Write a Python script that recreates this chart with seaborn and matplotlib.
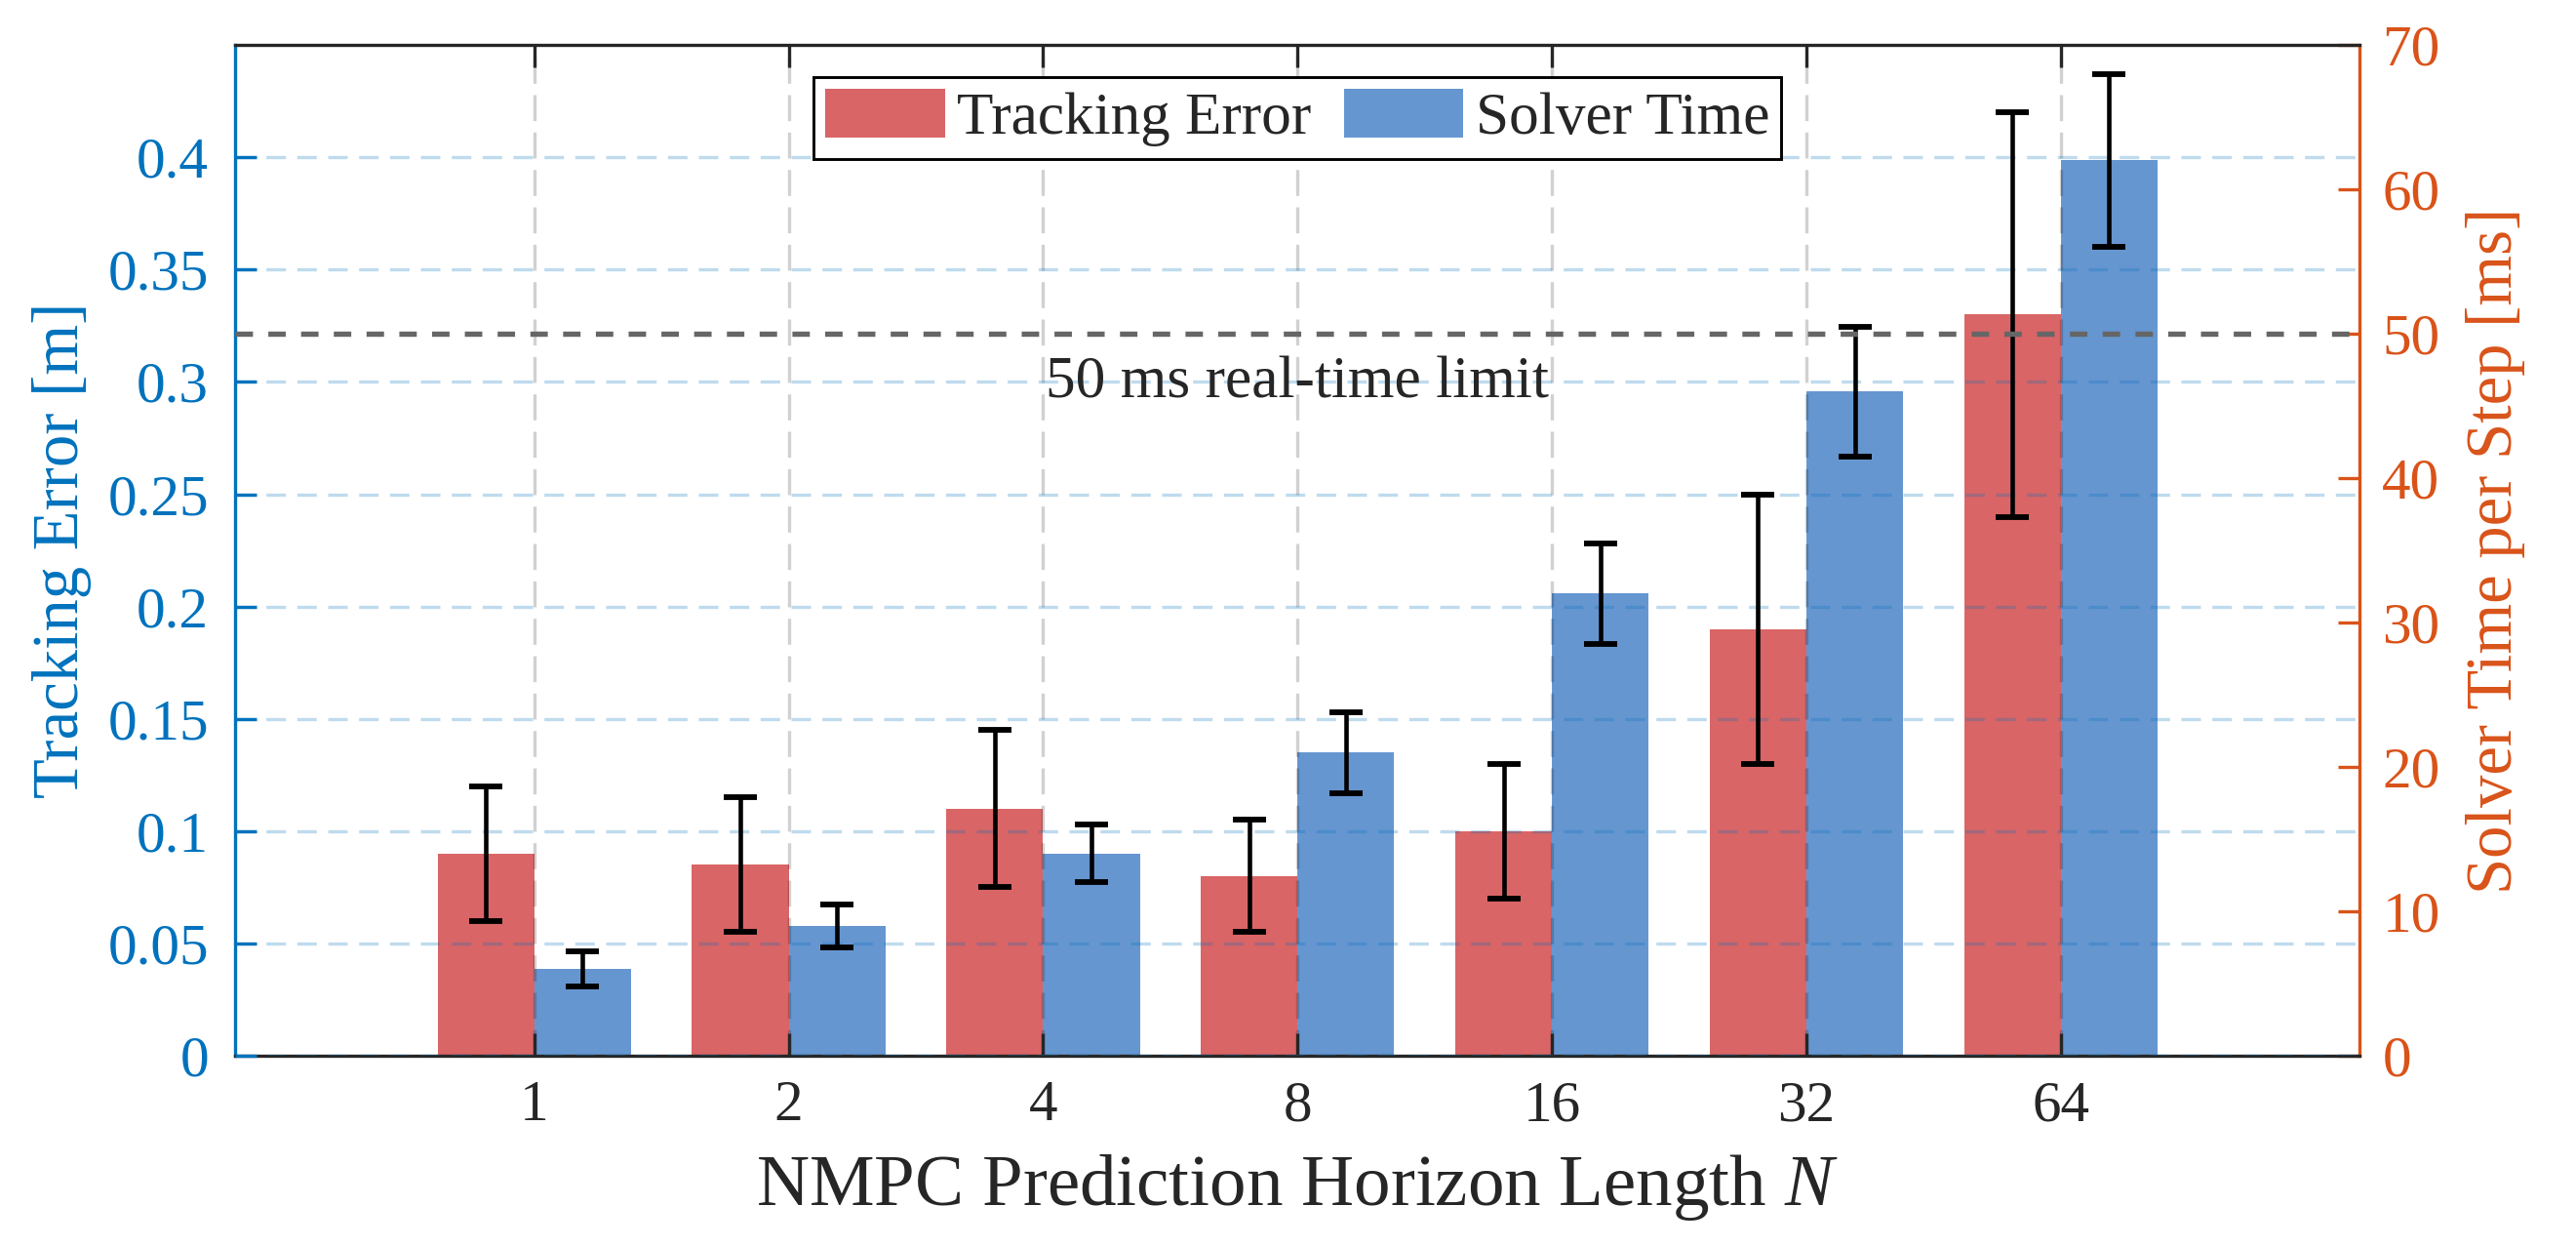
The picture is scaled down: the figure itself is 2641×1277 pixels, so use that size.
import numpy as np
import pandas as pd
import matplotlib
matplotlib.use("Agg")
import matplotlib.pyplot as plt
import seaborn as sns
from matplotlib.patches import Patch
from matplotlib.ticker import FuncFormatter

# ---------------- data ----------------
horizons = ["1", "2", "4", "8", "16", "32", "64"]
track_err = [0.09, 0.085, 0.11, 0.08, 0.10, 0.19, 0.33]
track_err_sd = [0.03, 0.03, 0.035, 0.025, 0.03, 0.06, 0.09]
solver_ms = [6, 9, 14, 21, 32, 46, 62]
solver_ms_sd = [1.2, 1.5, 2.0, 2.8, 3.5, 4.5, 6.0]
series = ["Tracking Error", "Solver Time"]
left_lim = (0, 0.45)
right_lim = (0, 70)
left_ticks = [0, 0.05, 0.1, 0.15, 0.2, 0.25, 0.3, 0.35, 0.4]
right_ticks = [0, 10, 20, 30, 40, 50, 60, 70]
limit_ms = 50
limit_text = "50 ms real-time limit"

RED = "#D96566"
BLUE = "#6696D0"
AX_BLUE = "#0072BD"
AX_ORANGE = "#D95319"
DARK = "#262626"

sns.set_theme(style="white")
plt.rcParams["font.family"] = ["Liberation Serif", "DejaVu Serif"]
plt.rcParams["mathtext.fontset"] = "custom"
plt.rcParams["mathtext.rm"] = "Liberation Serif"
plt.rcParams["mathtext.it"] = "Liberation Serif:italic"

scale = left_lim[1] / right_lim[1]  # ms -> left-axis units

df = pd.DataFrame({
    "N": horizons * 2,
    "series": [series[0]] * len(horizons) + [series[1]] * len(horizons),
    "value": track_err + [v * scale for v in solver_ms],
    "sd": track_err_sd + [v * scale for v in solver_ms_sd],
})

fig = plt.figure(figsize=(2641 / 300, 1277 / 300), dpi=300)
L, R, B, T = 0.0913, 0.9161, 0.1527, 0.9639
ax = fig.add_axes([L, B, R - L, T - B])

sns.barplot(data=df, x="N", y="value", hue="series", order=horizons,
            hue_order=series, palette=[RED, BLUE], width=0.76,
            errorbar=None, saturation=1, legend=False, linewidth=0, ax=ax)

for cont, s in zip(ax.containers, series):
    sub = df[df["series"] == s]
    xs = [p.get_x() + p.get_width() / 2 for p in cont]
    ax.errorbar(xs, sub["value"].values, yerr=sub["sd"].values, fmt="none",
                ecolor="black", elinewidth=1.1, capsize=4, capthick=1.4,
                zorder=4)

ax.axhline(limit_ms * scale, color="#666666", lw=1.3,
           linestyle=(0, (3.3, 2.9)), zorder=4)
ax.text(horizons.index("8"), 0.293, limit_text, ha="center", va="baseline",
        fontsize=14.7, color=DARK, zorder=5)

ax.set_xlim(-1.175, len(horizons) - 1 + 1.175)
ax.set_ylim(*left_lim)
ax.set_yticks(left_ticks)
ax.yaxis.set_major_formatter(FuncFormatter(lambda v, p: f"{v:g}"))

ax.set_axisbelow(False)
ax.yaxis.grid(True, color=AX_BLUE, alpha=0.25, lw=0.8,
              linestyle=(0, (6, 3.5)))
ax.xaxis.grid(True, color="black", alpha=0.18, lw=0.8,
              linestyle=(0, (8, 3.5)))

for side in ["top", "bottom"]:
    ax.spines[side].set_color(DARK)
    ax.spines[side].set_linewidth(0.8)
ax.spines["left"].set_color(AX_BLUE)
ax.spines["left"].set_linewidth(0.8)
ax.spines["right"].set_visible(False)

ax.tick_params(axis="x", which="both", bottom=True, top=True, direction="in",
               length=5.5, width=0.8, colors=DARK, labelsize=14.2, pad=6)
ax.tick_params(axis="y", left=True, right=False, direction="in", length=5.3,
               width=0.8, colors=AX_BLUE, labelsize=14.2, pad=6.5)

ax.set_xlabel("NMPC Prediction Horizon Length $N$", fontsize=18, color=DARK,
              va="baseline")
ax.xaxis.set_label_coords(0.5, -0.1477)
ax.set_ylabel("Tracking Error [m]", fontsize=16, color=AX_BLUE)
ax.yaxis.set_label_coords(-0.0675, 0.5)

sec = ax.secondary_yaxis("right", functions=(lambda y: y / scale,
                                             lambda y: y * scale))
sec.set_yticks(right_ticks)
sec.spines["right"].set_color(AX_ORANGE)
sec.spines["right"].set_linewidth(0.8)
sec.tick_params(axis="y", right=True, direction="in", length=5.3, width=0.8,
                colors=AX_ORANGE, labelsize=14.2, pad=5.5)
sec.set_ylabel("Solver Time per Step [ms]", fontsize=16, color=AX_ORANGE)
sec.yaxis.set_label_coords(1.050, 0.5, transform=ax.transAxes)

handles = [Patch(facecolor=RED, edgecolor="none"),
           Patch(facecolor=BLUE, edgecolor="none")]
leg = ax.legend(handles, series, loc="upper center", ncol=2,
                bbox_to_anchor=(0.5, 0.968), borderaxespad=0,
                fontsize=14.7, frameon=True, fancybox=False, framealpha=1,
                edgecolor="black", handlelength=2.0, handleheight=0.87,
                handletextpad=0.2, columnspacing=0.55, borderpad=0.2)
leg.get_frame().set_linewidth(0.7)
leg.set_zorder(6)

fig.savefig("out.png", dpi=300)
